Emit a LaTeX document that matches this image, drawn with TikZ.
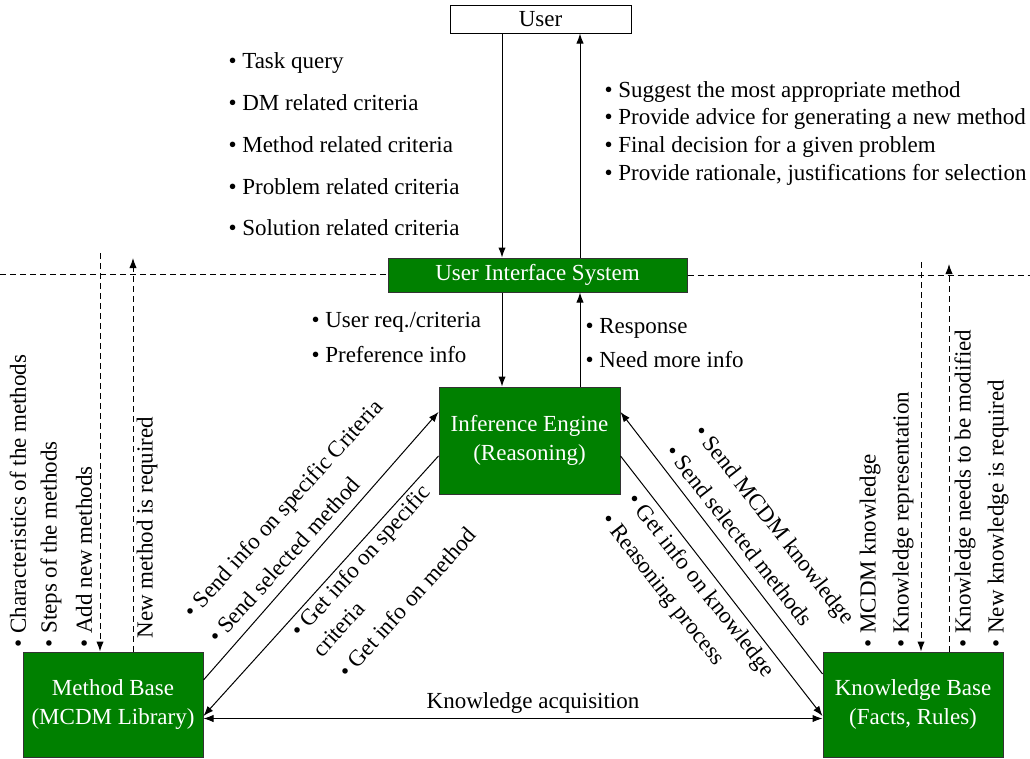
\documentclass[tikz,border=0pt]{standalone}
\usepackage{fontspec}
\setmainfont{Liberation Serif}
\usetikzlibrary{arrows.meta}
\definecolor{boxgreen}{RGB}{0,128,0}
\newcommand{\diagfont}{\fontsize{17.25}{21.75}\selectfont}
\tikzset{
  greenbox/.style={draw=black!80, line width=0.75pt, fill=boxgreen, text=white,
    align=center, inner sep=0pt},
  userbox/.style={draw=black, line width=0.75pt, fill=white, inner sep=0pt},
  note/.style={inner sep=0pt, anchor=west},
  dashflow/.style={dash pattern=on 4.5pt off 3pt}
}
\begin{document}
\begin{tikzpicture}[x=0.75pt, y=-0.75pt, font=\diagfont, line width=0.75pt,
    >={Latex[length=7.5pt,width=5.5pt]}]
  \useasboundingbox (0,0) rectangle (1030,758);

  % boxes
  \node[userbox, minimum width=135.75pt, minimum height=21pt] (user) at (540.5,19) {User};
  \node[greenbox, minimum width=224.25pt, minimum height=25.5pt] (uis) at (537.5,275) {User Interface System};
  \node[greenbox, minimum width=135.75pt, minimum height=80.25pt] (ie) at (529.5,440.5) {Inference Engine\\(Reasoning)};
  \node[greenbox, minimum width=135pt, minimum height=78.75pt] (mb) at (113,704.5) {Method Base\\(MCDM Library)};
  \node[greenbox, minimum width=135pt, minimum height=78.75pt] (kb) at (913,704.5) {Knowledge Base\\(Facts, Rules)};

  % user <-> interface <-> engine
  \coordinate (down) at (502,0);
  \coordinate (up) at (580,0);
  \draw[->] (down |- user.south) -- (down |- uis.north);
  \draw[->] (up |- uis.north) -- (up |- user.south);
  \draw[->] (down |- uis.south) -- (down |- ie.north);
  \draw[->] (up |- ie.north) -- (up |- uis.south);

  % engine <-> bases
  \draw[->] ([yshift=18.4pt]mb.east) -- ([yshift=21.4pt]ie.west);
  \draw[->] ([yshift=-11.6pt]ie.west) -- ([yshift=-8.6pt]mb.east);
  \draw[->] ([yshift=22.9pt]kb.west) -- ([yshift=21.4pt]ie.east);
  \draw[->] ([yshift=-11.6pt]ie.east) -- ([yshift=-8.6pt]kb.west);
  \coordinate (acq) at (0,718.5);
  \draw[<->] (mb.east |- acq) -- (kb.west |- acq);
  \node (acqlbl) at (533,703) {Knowledge acquisition};

  % dashed links to the outside
  \coordinate (lend) at (0,274);
  \coordinate (rend) at (1030,274);
  \draw[dashflow] (lend) -- (lend -| uis.west);
  \draw[dashflow] (uis.east) -- (rend |- uis.east);
  \coordinate (mdown) at (100,253);
  \coordinate (mup) at (133,258);
  \coordinate (kdown) at (921,262);
  \coordinate (kup) at (949,264);
  \draw[dashflow, ->] (mdown) -- (mdown |- mb.north);
  \draw[dashflow, ->] (mup |- mb.north) -- (mup);
  \draw[dashflow, ->] (kdown) -- (kdown |- kb.north);
  \draw[dashflow, ->] (kup |- kb.north) -- (kup);

  % labels
  \foreach \y/\t [count=\i] in {63/Task query, 103/DM related criteria,
      145/Method related criteria, 187/Problem related criteria, 228/Solution related criteria}
    \node[note] (ask\i) at (228,\y) {• \t};
  \foreach \y/\t [count=\i] in {92/Suggest the most appropriate method,
      119/Provide advice for generating a new method, 147/Final decision for a given problem,
      175/{Provide rationale, justifications for selection}}
    \node[note] (reply\i) at (604,\y) {• \t};
  \node[note] (req1) at (311,322) {• User req./criteria};
  \node[note] (req2) at (311,355) {• Preference info};
  \node[note] (resp1) at (585,328) {• Response};
  \node[note] (resp2) at (585,360) {• Need more info};

  \foreach \x/\t [count=\i] in {18/Characteristics of the methods, 51/Steps of the methods, 84/Add new methods}
    \node[note, rotate=90] (mbin\i) at (\x,648) {• \t};
  \node[note, rotate=90] (mbreq) at (147,639) {New method is required};
  \foreach \x/\t [count=\i] in {870/MCDM knowledge, 903/Knowledge representation,
      965/Knowledge needs to be modified, 998/New knowledge is required}
    \node[note, rotate=90] (kbin\i) at (\x,648) {• \t};

  \node[note, rotate=48] (send1) at (189,616) {• Send info on specific Criteria};
  \node[note, rotate=48] (send2) at (212,640) {• Send selected method};
  \node[note, rotate=48, anchor=north west, align=left] (get1) at (288,628) {• Get info on specific\\criteria};
  \node[note, rotate=48] (get2) at (342,675) {• Get info on method};

  \node[note, rotate=-52] (kbsend1) at (697.5,428.8) {• Send MCDM knowledge};
  \node[note, rotate=-52] (kbsend2) at (670.5,446.8) {• Send selected methods};
  \node[note, rotate=-52] (kbget1) at (630.5,496.8) {• Get info on knowledge};
  \node[note, rotate=-52] (kbget2) at (604.5,516.8) {• Reasoning process};
\end{tikzpicture}
\end{document}
